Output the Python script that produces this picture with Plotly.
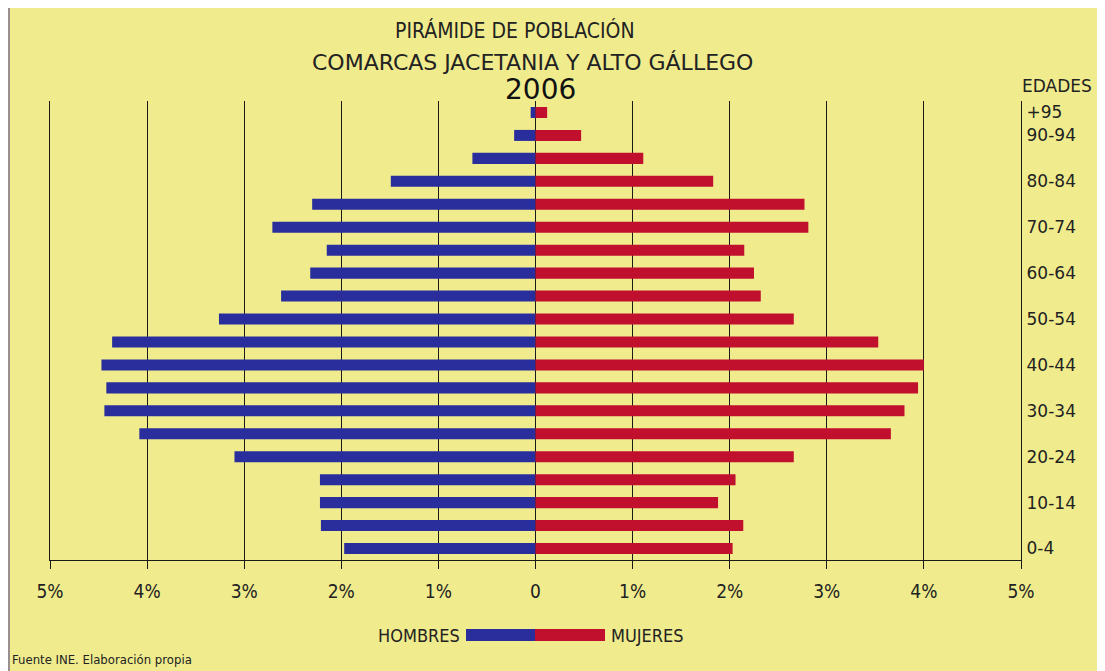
import plotly.graph_objects as go

# ---- data ----
age_groups = ["0-4", "5-9", "10-14", "15-19", "20-24", "25-29", "30-34", "35-39",
              "40-44", "45-49", "50-54", "55-59", "60-64", "65-69", "70-74",
              "75-79", "80-84", "85-89", "90-94", "+95"]
hombres = [1.97, 2.21, 2.22, 2.22, 3.10, 4.08, 4.44, 4.42, 4.47, 4.36,
           3.26, 2.62, 2.32, 2.15, 2.71, 2.30, 1.49, 0.65, 0.22, 0.05]
mujeres = [2.03, 2.14, 1.88, 2.06, 2.66, 3.66, 3.80, 3.94, 4.00, 3.53,
           2.66, 2.32, 2.25, 2.15, 2.81, 2.77, 1.83, 1.11, 0.47, 0.12]
age_labels_shown = ["0-4", "10-14", "20-24", "30-34", "40-44", "50-54",
                    "60-64", "70-74", "80-84", "90-94", "+95"]
x_ticks = [-5, -4, -3, -2, -1, 0, 1, 2, 3, 4, 5]
x_tick_text = ["5%", "4%", "3%", "2%", "1%", "0", "1%", "2%", "3%", "4%", "5%"]

BG = "#F0EC8E"
BLUE = "#2A2E9C"
RED = "#C0102E"
NARROW = "Liberation Sans Narrow, DejaVu Sans Condensed, Arial Narrow, sans-serif"
SANS = "DejaVu Sans, Roboto, sans-serif"

# window size and page offset (body margin)
WW, WH = 1105, 671
OX, OY = 8, 8
W, H = WW - OX, WH - OY
# plot area in window pixels
L, R, T, B = 50, 1021, 101, 560


def px(x):
    return (x - L) / (R - L)


def py(y):
    return (B - y) / (B - T)


fig = go.Figure()
fig.add_trace(go.Bar(y=age_groups, x=[-v for v in hombres], orientation="h",
                     marker=dict(color=BLUE, line=dict(width=0)), name="HOMBRES"))
fig.add_trace(go.Bar(y=age_groups, x=mujeres, orientation="h",
                     marker=dict(color=RED, line=dict(width=0)), name="MUJERES"))

fig.update_layout(
    width=W, height=H,
    margin=dict(l=L - OX, r=WW - R, t=T - OY, b=WH - B, pad=0),
    paper_bgcolor=BG, plot_bgcolor=BG,
    barmode="relative", bargap=0.52,
    showlegend=False,
    xaxis=dict(range=[-5, 5], tickvals=x_ticks, ticktext=x_tick_text,
               showgrid=True, gridcolor="#1a1a1a", gridwidth=1.3,
               zeroline=True, zerolinecolor="#1a1a1a", zerolinewidth=1.3,
               showline=True, linecolor="#1a1a1a", linewidth=1.3,
               ticks="outside", ticklen=8, tickcolor="#1a1a1a", tickwidth=1.3,
               ticklabelstandoff=6,
               tickfont=dict(family=NARROW, size=19, color="#222")),
    yaxis=dict(type="category", categoryorder="array", categoryarray=age_groups,
               range=[-0.5, 19.5], side="right", showgrid=False, zeroline=False,
               showline=True, mirror=True, linecolor="#1a1a1a", linewidth=1.3,
               tickvals=age_labels_shown, ticktext=age_labels_shown,
               ticks="", ticklabelstandoff=1,
               tickfont=dict(family=SANS, size=17, color="#222")),
)

shapes = [
    dict(type="line", xref="paper", yref="paper", x0=px(1102), x1=px(1102), y0=py(WH), y1=py(OY),
         line=dict(color="#9a8f8f", width=2)),
    dict(type="line", xref="paper", yref="paper", x0=px(OX + 1), x1=px(OX + 1), y0=py(WH), y1=py(OY),
         line=dict(color="#9a8f8f", width=2)),
    # legend swatches
    dict(type="rect", xref="paper", yref="paper", x0=px(466), x1=px(535), y0=py(641), y1=py(629),
         fillcolor=BLUE, line=dict(width=0)),
    dict(type="rect", xref="paper", yref="paper", x0=px(535), x1=px(605), y0=py(641), y1=py(629),
         fillcolor=RED, line=dict(width=0)),
]
fig.update_layout(shapes=shapes)

ann = [
    dict(text="PIRÁMIDE DE POBLACIÓN", x=px(515), y=py(30), font=dict(family=NARROW, size=21, color="#222"),
         xanchor="center", yanchor="middle"),
    dict(text="COMARCAS JACETANIA Y ALTO GÁLLEGO", x=px(532), y=py(62), font=dict(family=SANS, size=22, color="#222"),
         xanchor="center", yanchor="middle"),
    dict(text="2006", x=px(540), y=py(89), font=dict(family=SANS, size=28, color="#111"),
         xanchor="center", yanchor="middle"),
    dict(text="EDADES", x=px(1020), y=py(86), font=dict(family=SANS, size=17, color="#222"),
         xanchor="left", yanchor="middle"),
    dict(text="HOMBRES", x=px(462), y=py(635), font=dict(family=NARROW, size=18, color="#222"),
         xanchor="right", yanchor="middle"),
    dict(text="MUJERES", x=px(609), y=py(635), font=dict(family=NARROW, size=18, color="#222"),
         xanchor="left", yanchor="middle"),
    dict(text="Fuente INE. Elaboración propia", x=px(10), y=py(659), font=dict(family=NARROW, size=13, color="#222"),
         xanchor="left", yanchor="middle"),
]
for a in ann:
    a.update(xref="paper", yref="paper", showarrow=False)
fig.update_layout(annotations=ann)

fig.write_html("out.html")
